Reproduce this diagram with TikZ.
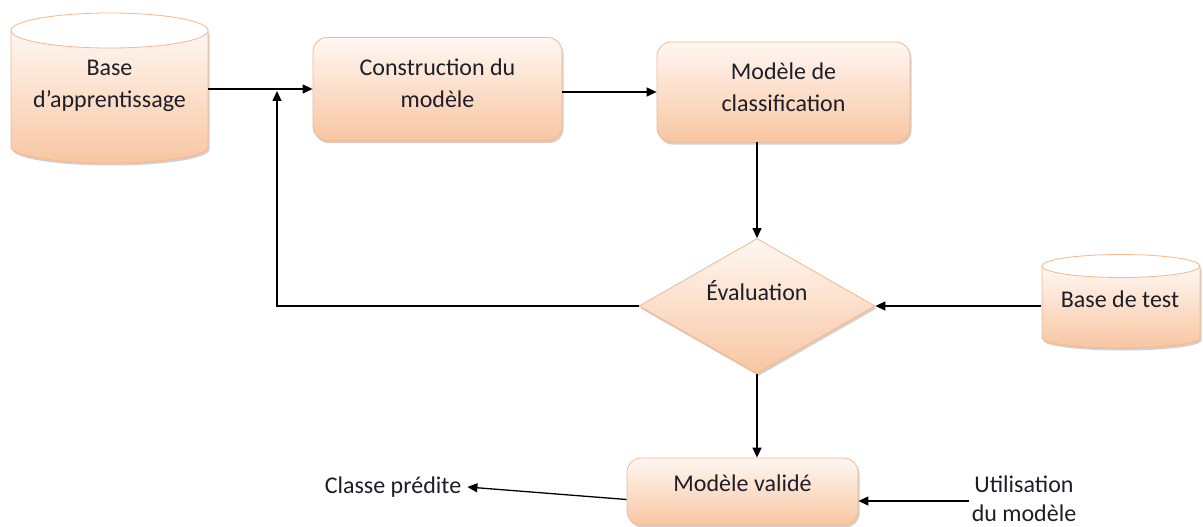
\documentclass[tikz,border=0pt]{standalone}
\usepackage{fontspec}
\setmainfont{Carlito}
\usetikzlibrary{shapes.geometric,arrows.meta,shadows,calc}
\definecolor{peach}{RGB}{248,198,162}
\definecolor{peachtop}{RGB}{255,247,242}
\definecolor{bord}{RGB}{245,184,140}
\definecolor{txt}{RGB}{30,30,40}
\tikzset{
  pfill/.style={top color=peachtop, bottom color=peach, draw=bord, line width=0.8pt,
    drop shadow={shadow xshift=1.5pt, shadow yshift=-2.5pt, opacity=0.3, fill=black!60}},
  box/.style={pfill, rounded corners=14pt, inner sep=0pt},
  lbl/.style={font=\fontsize{24}{32}\selectfont, text=txt, align=center},
  arr/.style={draw=black, line width=1.3pt, -{Triangle[length=10pt,width=9pt]}}
}
\begin{document}
\begin{tikzpicture}[x=1pt,y=1pt]
\useasboundingbox (0,0) rectangle (1203,-527);
\fill[white] (0,0) rectangle (1203,-527);

% Base d'apprentissage cylinder
\path[pfill] (11,-30.5) -- (11,-147) arc[start angle=180,end angle=360,x radius=98.5,y radius=16] -- (208,-30.5) -- cycle;
\path[fill=white, draw=bord, line width=0.8pt] (109.5,-30.5) ellipse[x radius=98.5, y radius=17.5];
\node[lbl, inner sep=0pt, minimum width=197pt] (bda) at (109.5,-86) {Base\\d’apprentissage};

% Base de test cylinder
\path[pfill] (1042,-266) -- (1042,-338) arc[start angle=180,end angle=360,x radius=79,y radius=10] -- (1200,-266) -- cycle;
\path[fill=white, draw=bord, line width=0.8pt] (1121,-266) ellipse[x radius=79, y radius=11.5];
\node[lbl, inner sep=0pt, minimum width=158pt] (bdt) at (1120,-299) {Base de test};

% Boxes
\node[box, minimum width=249pt, minimum height=103pt] (cons) at (437.5,-89) {};
\node[lbl] (consT) at ([yshift=6pt]cons.center) {Construction du\\modèle};
\node[box, minimum width=253pt, minimum height=100pt] (mc) at (783.5,-92) {};
\node[lbl] (mcT) at ([yshift=5pt]mc.center) {Modèle de\\classification};
\node[pfill, diamond, inner sep=0pt, aspect=1.75, minimum width=236pt, minimum height=135pt] (ev) at (757,-306) {};
\node[lbl] (evT) at ([yshift=15pt]ev.center) {Évaluation};
\node[box, minimum width=231pt, minimum height=67pt] (mv) at (742.5,-491.5) {};
\node[lbl] (mvT) at ([yshift=8pt]mv.center) {Modèle validé};

\node[lbl, inner sep=2pt] (cp) at (393,-487) {Classe prédite};
\node[lbl, font=\fontsize{24}{29}\selectfont, inner sep=3pt] (ut) at (1024,-499) {Utilisation\\du modèle};

\coordinate (fb) at (277,-91);

% Connectors
\draw[arr] (bda.east |- cons.west) -- (cons.west);
\draw[arr] (cons.east |- mc.west) -- (mc.west);
\draw[arr] (ev.north |- mc.south) -- (ev.north);
\draw[arr] (ev.west) -| (fb);
\draw[arr] (bdt.west |- ev.east) -- (ev.east);
\draw[arr] (ev.south) -- (ev.south |- mv.north);
\draw[arr] ([yshift=-8pt]mv.west) -- ([xshift=4pt]cp.east);
\draw[arr] ([yshift=-2pt]ut.west) -- ([yshift=-2pt]ut.west -| mv.east);
\end{tikzpicture}
\end{document}
